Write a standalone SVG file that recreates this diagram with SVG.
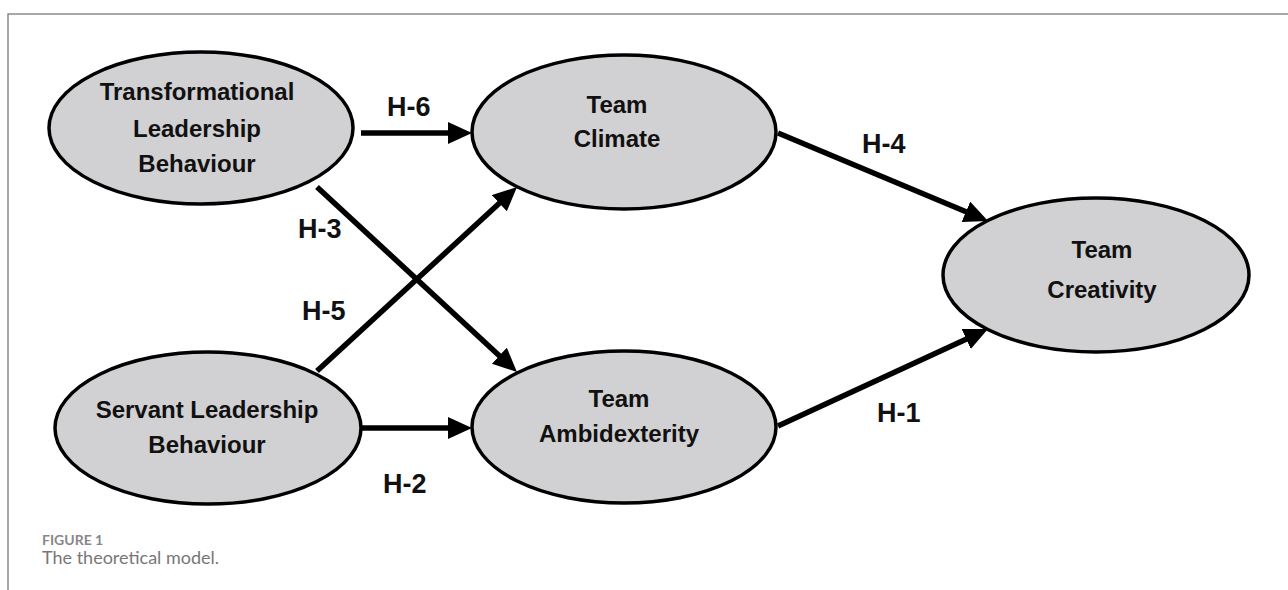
<svg xmlns="http://www.w3.org/2000/svg" width="1288" height="590" viewBox="0 0 1288 590">
<style>
.node{fill:#d1d0d2;stroke:#000;stroke-width:3.5}
.nt{font-family:"Liberation Sans",Arial,sans-serif;font-weight:bold;font-size:24px;fill:#111;text-anchor:middle}
.lbl{font-family:"Liberation Sans",Arial,sans-serif;font-weight:bold;font-size:27px;fill:#111}
.edge{stroke:#000;stroke-width:5.5;fill:none}
.frame{stroke:#8a8a8a;stroke-width:1.5;fill:none}
</style>
<defs>
<marker id="ah" markerUnits="userSpaceOnUse" markerWidth="26" markerHeight="24" refX="4" refY="11" orient="auto" viewBox="0 0 26 24">
<path d="M0,0 L24,11 L0,22 z" fill="#000"/>
</marker>
</defs>
<rect width="1288" height="590" fill="#fff"/>
<path class="frame" d="M8,590 V14 H1288"/>
<g id="connectors">
<line class="edge" x1="361" y1="133" x2="452" y2="133" marker-end="url(#ah)"/>
<line class="edge" x1="362" y1="428" x2="452" y2="428" marker-end="url(#ah)"/>
<line class="edge" x1="317" y1="187" x2="502.3" y2="358.4" marker-end="url(#ah)"/>
<line class="edge" x1="317" y1="371" x2="502.3" y2="200.5" marker-end="url(#ah)"/>
<line class="edge" x1="778" y1="133" x2="969.6" y2="213.3" marker-end="url(#ah)"/>
<line class="edge" x1="778" y1="426" x2="969.8" y2="337.4" marker-end="url(#ah)"/>
<text class="lbl" x="387" y="116" font-size="26">H-6</text>
<text class="lbl" x="298" y="238">H-3</text>
<text class="lbl" x="302" y="320" font-size="28">H-5</text>
<text class="lbl" x="383" y="493">H-2</text>
<text class="lbl" x="862" y="153">H-4</text>
<text class="lbl" x="877" y="422" font-size="29">H-1</text>
</g>
<g id="transformational">
<ellipse class="node" cx="201" cy="128" rx="152" ry="76"/>
<text class="nt" x="197" y="100">Transformational</text>
<text class="nt" x="197" y="137">Leadership</text>
<text class="nt" x="197" y="172">Behaviour</text>
</g>
<g id="servant">
<ellipse class="node" cx="208" cy="428" rx="153" ry="76"/>
<text class="nt" x="207" y="418">Servant Leadership</text>
<text class="nt" x="207" y="453">Behaviour</text>
</g>
<g id="climate">
<ellipse class="node" cx="624" cy="132" rx="152" ry="77"/>
<text class="nt" x="617" y="113">Team</text>
<text class="nt" x="617" y="147">Climate</text>
</g>
<g id="ambidexterity">
<ellipse class="node" cx="624" cy="427" rx="152" ry="76"/>
<text class="nt" x="619" y="407">Team</text>
<text class="nt" x="619" y="442">Ambidexterity</text>
</g>
<g id="creativity">
<ellipse class="node" cx="1096" cy="275" rx="153" ry="77"/>
<text class="nt" x="1102" y="258" font-size="28">Team</text>
<text class="nt" x="1102" y="298" font-size="28">Creativity</text>
</g>
<g id="caption">
<text x="42" y="545" font-family="Lato,'Open Sans',sans-serif" font-weight="bold" font-size="14" fill="#888">FIGURE 1</text>
<text x="42" y="564" font-family="Lato,'Open Sans',sans-serif" font-size="18" fill="#777">The theoretical model.</text>
</g>
</svg>
